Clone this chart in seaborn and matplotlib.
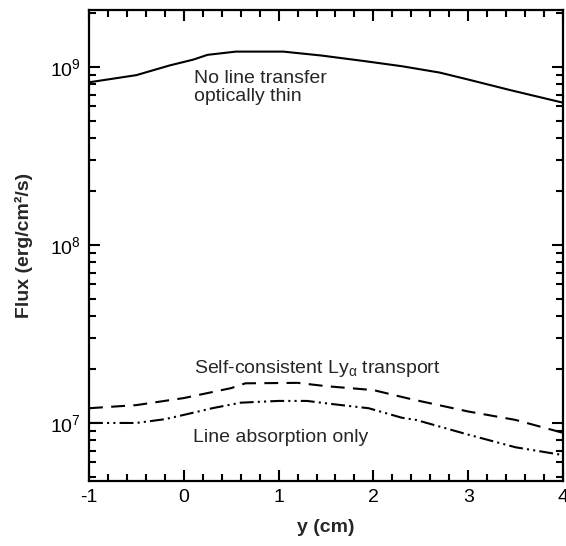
import matplotlib
matplotlib.use("Agg")
import matplotlib.pyplot as plt
import seaborn as sns
import numpy as np
import pandas as pd
from matplotlib.ticker import MultipleLocator, LogLocator, LogFormatterMathtext, NullFormatter

# ---- data ----
x_thin = [-1.0, -0.5, -0.15, 0.1, 0.25, 0.55, 1.05, 1.45, 1.9, 2.3, 2.7, 3.0, 3.45, 4.0]
f_thin = [8.2e8, 9.0e8, 1.02e9, 1.1e9, 1.17e9, 1.22e9, 1.22e9, 1.16e9, 1.08e9, 1.01e9, 9.3e8, 8.5e8, 7.4e8, 6.3e8]

x_sc = [-1.0, -0.5, 0.0, 0.5, 0.65, 1.2, 1.5, 2.0, 2.4, 3.0, 3.5, 4.0]
f_sc = [1.21e7, 1.26e7, 1.38e7, 1.57e7, 1.67e7, 1.68e7, 1.61e7, 1.53e7, 1.36e7, 1.16e7, 1.04e7, 8.8e6]

x_la = [-1.0, -0.5, -0.2, 0.0, 0.3, 0.6, 1.0, 1.3, 1.55, 1.95, 2.3, 2.45, 3.0, 3.5, 4.0]
f_la = [1.0e7, 1.0e7, 1.05e7, 1.11e7, 1.21e7, 1.30e7, 1.33e7, 1.33e7, 1.28e7, 1.21e7, 1.07e7, 1.04e7, 8.6e6, 7.3e6, 6.6e6]

label_thin_1 = "No line transfer"
label_thin_2 = "optically thin"
label_sc = r"Self-consistent Ly$_{\mathrm{\alpha}}$ transport"
label_la = "Line absorption only"
xlabel = "y (cm)"
ylabel = "Flux (erg/cm²/s)"

sns.set_style("ticks")
plt.rcParams['font.family'] = ['Liberation Sans', 'DejaVu Sans']
plt.rcParams['mathtext.fontset'] = 'custom'
plt.rcParams['mathtext.rm'] = 'Liberation Sans'
plt.rcParams['mathtext.it'] = 'Liberation Sans:italic'
plt.rcParams['mathtext.bf'] = 'Liberation Sans:bold'
plt.rcParams['lines.scale_dashes'] = False
plt.rcParams['axes.unicode_minus'] = False

fig = plt.figure(figsize=(5.66, 5.46), dpi=100)
ax = fig.add_axes([89/566, 1-481/546, (563-89)/566, (481-10)/546])

df_thin = pd.DataFrame({"x": x_thin, "f": f_thin})
df_sc = pd.DataFrame({"x": x_sc, "f": f_sc})
df_la = pd.DataFrame({"x": x_la, "f": f_la})

sns.lineplot(data=df_thin, x="x", y="f", ax=ax, color="black", lw=1.5, sort=False)
l2 = sns.lineplot(data=df_sc, x="x", y="f", ax=ax, color="black", lw=1.5, sort=False).lines[-1]
l2.set_dashes([10, 6])
l3 = sns.lineplot(data=df_la, x="x", y="f", ax=ax, color="black", lw=1.5, sort=False).lines[-1]
l3.set_dashes([10, 3, 1.5, 3, 1.5, 3])

ax.set_yscale("log")
ax.set_xlim(-1, 4)
ax.set_ylim(4.72e6, 2.09e9)

ax.xaxis.set_major_locator(MultipleLocator(1))
ax.xaxis.set_minor_locator(MultipleLocator(0.2))
ax.yaxis.set_major_locator(LogLocator(base=10, numticks=10))
ax.yaxis.set_minor_locator(LogLocator(base=10, subs=np.arange(2, 10), numticks=10))
ax.yaxis.set_major_formatter(LogFormatterMathtext())
ax.yaxis.set_minor_formatter(NullFormatter())

ax.tick_params(which="both", direction="in", top=True, right=True, width=1.5, colors="black",
               labelsize=14)
ax.tick_params(which="major", length=8, pad=6)
ax.tick_params(which="minor", length=5)
for s in ax.spines.values():
    s.set_linewidth(1.6)
    s.set_color("black")

ax.set_xlabel(xlabel, fontsize=14, fontweight="bold", labelpad=9)
ax.set_ylabel(ylabel, fontsize=14, fontweight="bold", labelpad=12)

ax.text(0.11, 8.13e8, label_thin_1, fontsize=14, va="baseline", ha="left")
ax.text(0.11, 6.44e8, label_thin_2, fontsize=14, va="baseline", ha="left")
ax.text(0.11, 1.91e7, label_sc, fontsize=14, va="baseline", ha="left")
ax.text(0.10, 7.82e6, label_la, fontsize=14, va="baseline", ha="left")

fig.savefig("out.png", dpi=100)
